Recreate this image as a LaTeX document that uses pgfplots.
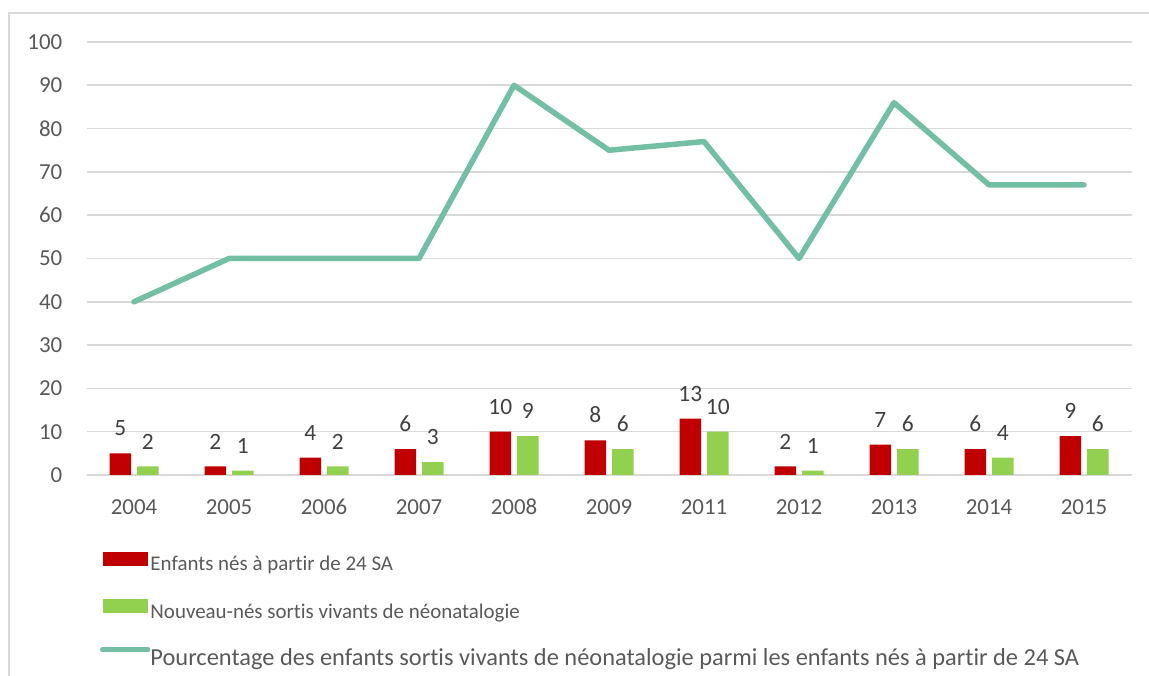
\documentclass[border=0pt]{standalone}
\usepackage{fontspec}
\setmainfont{Carlito}[Ligatures=NoCommon]
\usepackage{pgfplots}
\pgfplotsset{compat=1.18}
\definecolor{cRed}{HTML}{C00000}
\definecolor{cGreen}{HTML}{92D050}
\definecolor{cTeal}{HTML}{72BFA3}
\definecolor{cGrid}{HTML}{D9D9D9}
\definecolor{cText}{HTML}{595959}
\definecolor{cLabel}{HTML}{404040}
\begin{document}
\begin{tikzpicture}[x=1bp,y=1bp]
\useasboundingbox (0,0) rectangle (1149,676);
\draw[cGrid, line width=1.5bp] (9,-5) -- (9,663) -- (1160,663);
\begin{axis}[
  at={(86.5bp,201bp)}, anchor=south west,
  scale only axis, width=1045bp, height=433bp,
  xmin=-0.5, xmax=10.5, ymin=0, ymax=100,
  xtick={0,...,10},
  xticklabels={2004,2005,2006,2007,2008,2009,2011,2012,2013,2014,2015},
  ytick={0,10,...,100},
  axis line style={draw=none},
  major tick length=0pt,
  ymajorgrids, grid style={cGrid, line width=1.6bp},
  tick label style={font=\fontsize{23}{27}\selectfont, text=cText, inner sep=0pt},
  /pgf/number format/assume math mode=true,
  yticklabel style={anchor=east, xshift=-24bp},
  xticklabel style={anchor=north, yshift=-24bp},
  legend columns=1,
  legend cell align=left,
  legend style={at={(0.0129,-0.1778)}, anchor=north west, draw=none, fill=none,
    inner sep=0pt, outer sep=0pt,
    font=\fontsize{21}{25}\selectfont, text=cText,
    nodes={inner sep=0pt, text height=15bp, text depth=5bp},
    row sep=23.5bp,
    /tikz/every odd column/.append style={column sep=0bp}},
  nodes near coords style={font=\fontsize{23.5}{27}\selectfont, text=cLabel, anchor=south, inner sep=0pt, yshift=17bp},
]
\addplot[ybar, fill=cRed, draw=none, bar width=21.5bp, bar shift=-13.75bp, nodes near coords,
  every node near coord/.append style={xshift=-13.75bp},
  legend image code/.code={\fill[cRed] (0bp,0bp) rectangle (45bp,14bp);}]
  coordinates {(0,5) (1,2) (2,4) (3,6) (4,10) (5,8) (6,13) (7,2) (8,7) (9,6) (10,9)};
\addlegendentry{Enfants nés à partir de 24 SA}
\addplot[ybar, fill=cGreen, draw=none, bar width=21.5bp, bar shift=13.75bp, nodes near coords,
  every node near coord/.append style={xshift=13.75bp},
  legend image code/.code={\fill[cGreen] (0bp,0bp) rectangle (45bp,14bp);}]
  coordinates {(0,2) (1,1) (2,2) (3,3) (4,9) (5,6) (6,10) (7,1) (8,6) (9,4) (10,6)};
\addlegendentry{Nouveau-nés sortis vivants de néonatalogie}
\addplot[sharp plot, cTeal, line width=5.5bp, mark=none, line join=round, line cap=round,
  legend image code/.code={\draw[cTeal, line width=5.5bp, line cap=round] (0bp,11bp) -- (45bp,11bp);}]
  coordinates {(0,40) (1,50) (2,50) (3,50) (4,90) (5,75) (6,77) (7,50) (8,86) (9,67) (10,67)};
\addlegendentry{\fontsize{24.5}{28}\selectfont Pourcentage des enfants sortis vivants de néonatalogie parmi les enfants nés à partir de 24 SA}
\end{axis}
\end{tikzpicture}
\end{document}
